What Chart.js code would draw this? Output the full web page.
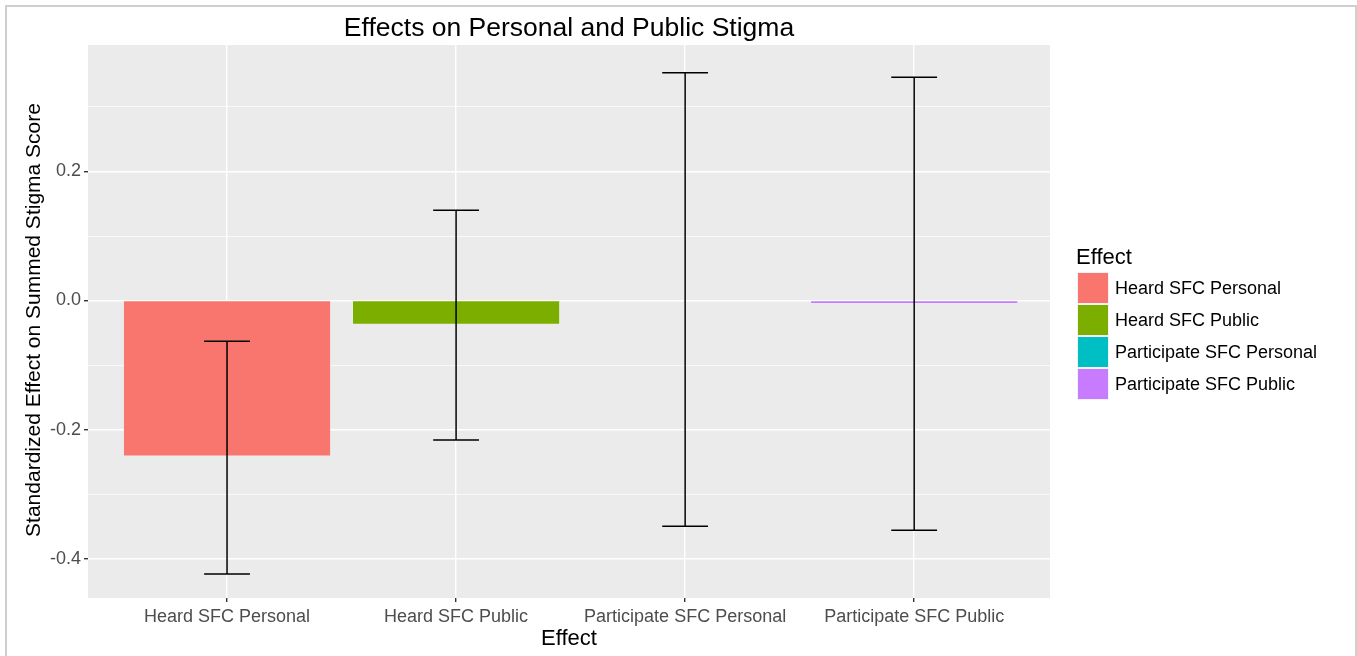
<!DOCTYPE html>
<html>
<head>
<meta charset="utf-8">
<title>Effects on Personal and Public Stigma</title>
<script src="https://cdn.jsdelivr.net/npm/chart.js@4.4.1/dist/chart.umd.min.js"></script>
<style>
  html, body { margin: 0; padding: 0; background: #ffffff; }
  #wrap { width: 1357px; height: 656px; position: relative; }
</style>
</head>
<body>
<div id="wrap"><canvas id="chart" width="1357" height="656"></canvas></div>
<script>
// Effect categories and model estimates (standardized)
const categories = ['Heard SFC Personal', 'Heard SFC Public', 'Participate SFC Personal', 'Participate SFC Public'];
const estimates  = [-0.240, -0.036, 0.000, -0.004];
const lowerCI    = [-0.424, -0.216, -0.350, -0.356];
const upperCI    = [-0.063, 0.140, 0.353, 0.346];
const fillColors = ['#F8766D', '#7CAE00', '#00BFC4', '#C77CFF'];
const yTickValues = [-0.4, -0.3, -0.2, -0.1, 0.0, 0.1, 0.2, 0.3];
const chartTitle = 'Effects on Personal and Public Stigma';
const xTitle = 'Effect';
const yTitle = 'Standardized Effect on Summed Stigma Score';
const legendTitle = 'Effect';

const FONT = "'Liberation Sans', Arial, sans-serif";
const isMajor = v => Math.round(v * 10) % 2 === 0;

// grey panel behind the plotting region
const panelBackground = {
  id: 'panelBackground',
  beforeDraw(chart) {
    const { ctx, chartArea: a } = chart;
    ctx.save();
    ctx.fillStyle = '#EBEBEB';
    ctx.fillRect(a.left, a.top, a.right - a.left, a.bottom - a.top);
    ctx.restore();
  }
};

// confidence interval whiskers
const errorBars = {
  id: 'errorBars',
  afterDatasetsDraw(chart) {
    const { ctx } = chart;
    const xs = chart.scales.x, ys = chart.scales.y;
    ctx.save();
    ctx.strokeStyle = '#000000';
    ctx.lineWidth = 1.5;
    categories.forEach((c, i) => {
      const xc = xs.getPixelForValue(i + 1);
      const xl = xs.getPixelForValue(i + 1 - 0.1);
      const xr = xs.getPixelForValue(i + 1 + 0.1);
      const yl = ys.getPixelForValue(lowerCI[i]);
      const yu = ys.getPixelForValue(upperCI[i]);
      ctx.beginPath();
      ctx.moveTo(xc, yu); ctx.lineTo(xc, yl);
      ctx.moveTo(xl, yu); ctx.lineTo(xr, yu);
      ctx.moveTo(xl, yl); ctx.lineTo(xr, yl);
      ctx.stroke();
    });
    ctx.restore();
  }
};

// titles, legend and frame
const annotations = {
  id: 'annotations',
  afterDraw(chart) {
    const { ctx, chartArea: a } = chart;
    ctx.save();
    ctx.fillStyle = '#000000';
    ctx.textBaseline = 'middle';
    ctx.textAlign = 'center';
    ctx.font = `26.5px ${FONT}`;
    ctx.fillText(chartTitle, 569, 29);
    ctx.font = `22px ${FONT}`;
    ctx.fillText(xTitle, 569, 639);
    ctx.save();
    ctx.font = `21px ${FONT}`;
    ctx.translate(34, 320);
    ctx.rotate(-Math.PI / 2);
    ctx.fillText(yTitle, 0, 0);
    ctx.restore();

    // legend
    ctx.textAlign = 'left';
    ctx.font = `22px ${FONT}`;
    ctx.fillText(legendTitle, 1076, 258);
    ctx.font = `18px ${FONT}`;
    categories.forEach((c, i) => {
      const top = 272 + i * 32;
      ctx.fillStyle = '#F2F2F2';
      ctx.fillRect(1077, top, 32, 32);
      ctx.fillStyle = fillColors[i];
      ctx.fillRect(1078, top + 1, 30, 30);
      ctx.fillStyle = '#000000';
      ctx.fillText(c, 1115, top + 17);
    });

    // outer frame
    ctx.strokeStyle = '#CFCFCF';
    ctx.lineWidth = 2;
    ctx.beginPath();
    ctx.moveTo(6, 660); ctx.lineTo(6, 6); ctx.lineTo(1356, 6); ctx.lineTo(1356, 660);
    ctx.stroke();
    ctx.restore();
  }
};

new Chart(document.getElementById('chart'), {
  type: 'bar',
  data: {
    datasets: [{
      data: categories.map((c, i) => ({ x: i + 1, y: estimates[i] })),
      backgroundColor: fillColors,
      borderWidth: 0,
      categoryPercentage: 1.0,
      barPercentage: 0.9
    }]
  },
  options: {
    responsive: false,
    animation: false,
    events: [],
    layout: { padding: { left: 0, top: 45, right: 307, bottom: 0 } },
    plugins: { legend: { display: false }, title: { display: false }, tooltip: { enabled: false } },
    scales: {
      x: {
        type: 'linear',
        min: 0.393,
        max: 4.593,
        offset: false,
        afterFit(scale) { scale.height = 58; },
        afterBuildTicks(scale) { scale.ticks = categories.map((c, i) => ({ value: i + 1 })); },
        border: { display: false },
        grid: {
          offset: false,
          color: '#FFFFFF',
          lineWidth: 1.4,
          tickColor: '#333333',
          tickLength: 4,
          drawTicks: true
        },
        ticks: {
          autoSkip: false,
          maxRotation: 0,
          minRotation: 0,
          padding: 4,
          color: '#4D4D4D',
          font: { family: FONT, size: 18 },
          callback: v => categories[Math.round(v) - 1] || ''
        }
      },
      y: {
        type: 'linear',
        min: -0.461,
        max: 0.396,
        afterFit(scale) { scale.width = 88; },
        afterBuildTicks(scale) { scale.ticks = yTickValues.map(v => ({ value: v })); },
        border: { display: false },
        grid: {
          color: '#FFFFFF',
          lineWidth: ctx => (ctx.tick && isMajor(ctx.tick.value) ? 1.4 : 0.7),
          tickColor: ctx => (ctx.tick && isMajor(ctx.tick.value) ? '#333333' : 'rgba(0,0,0,0)'),
          tickLength: 4,
          drawTicks: true
        },
        ticks: {
          padding: 3,
          color: '#4D4D4D',
          font: { family: FONT, size: 18 },
          callback: v => (isMajor(v) ? v.toFixed(1) : '')
        }
      }
    }
  },
  plugins: [panelBackground, errorBars, annotations]
});
</script>
</body>
</html>
